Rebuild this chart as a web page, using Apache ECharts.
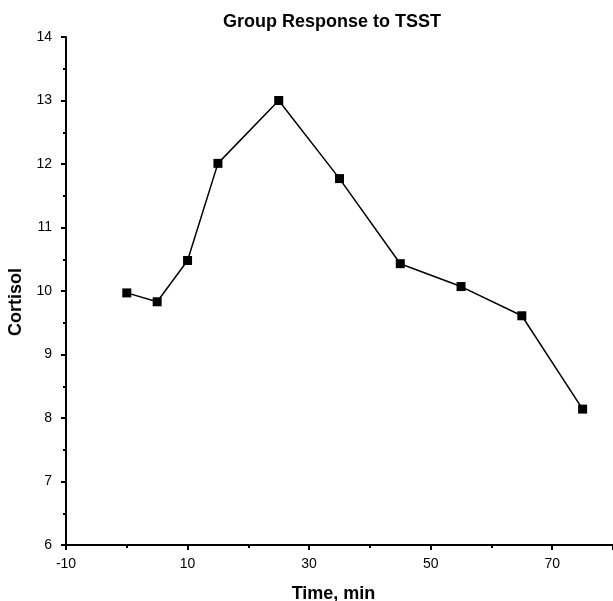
<!DOCTYPE html>
<html>
<head>
<meta charset="utf-8">
<script src="https://cdn.jsdelivr.net/npm/echarts@6/dist/echarts.min.js"></script>
<style>
  html, body { margin: 0; padding: 0; background: #fff; }
  #chart { width: 613px; height: 601px; }
</style>
</head>
<body>
<div id="chart"></div>
<script>
// time (min) and cortisol
const times = [0, 5, 10, 15, 25, 35, 45, 55, 65, 75]
const cortisol = [9.97, 9.83, 10.48, 12.01, 13.0, 11.77, 10.43, 10.07, 9.61, 8.14]

const font = 'Liberation Sans, Arial, sans-serif'

const chart = echarts.init(document.getElementById('chart'))
chart.setOption({
  animation: false,
  backgroundColor: '#fff',
  title: {
    text: 'Group Response to TSST',
    left: 327,
    textAlign: 'center',
    top: 8,
    textStyle: { fontFamily: font, fontSize: 18, fontWeight: 'bold', color: '#000' }
  },
  grid: { left: 66, right: 0, top: 37, bottom: 56, containLabel: false, outerBoundsMode: 'none' },
  xAxis: {
    type: 'value',
    min: -10,
    max: 80,
    interval: 20,
    name: 'Time, min',
    nameLocation: 'middle',
    nameGap: 40,
    nameTextStyle: { fontFamily: font, fontSize: 18, fontWeight: 'bold', color: '#000', padding: [0, 12, 0, 0] },
    axisLine: { onZero: false, lineStyle: { color: '#000', width: 2 } },
    axisTick: { length: 5, lineStyle: { color: '#000', width: 2 } },
    minorTick: { show: true, splitNumber: 2, length: 3, lineStyle: { color: '#000', width: 2 } },
    axisLabel: { fontFamily: font, fontSize: 14, color: '#000', margin: 12, showMaxLabel: false },
    splitLine: { show: false }
  },
  yAxis: {
    type: 'value',
    min: 6,
    max: 14,
    interval: 1,
    name: 'Cortisol',
    nameLocation: 'middle',
    nameGap: 38,
    nameTextStyle: { fontFamily: font, fontSize: 18, fontWeight: 'bold', color: '#000', padding: [0, 22, 0, 0] },
    axisLine: { show: true, onZero: false, lineStyle: { color: '#000', width: 2 } },
    axisTick: { show: true, length: 5, lineStyle: { color: '#000', width: 2 } },
    minorTick: { show: true, splitNumber: 2, length: 3, lineStyle: { color: '#000', width: 2 } },
    axisLabel: { fontFamily: font, fontSize: 14, color: '#000', margin: 14 },
    splitLine: { show: false }
  },
  series: [{
    type: 'line',
    data: times.map((t, i) => [t, cortisol[i]]),
    symbol: 'rect',
    symbolSize: 9,
    lineStyle: { color: '#000', width: 1.5 },
    itemStyle: { color: '#000' }
  }]
})
window.addEventListener('resize', chart.resize)
</script>
</body>
</html>
